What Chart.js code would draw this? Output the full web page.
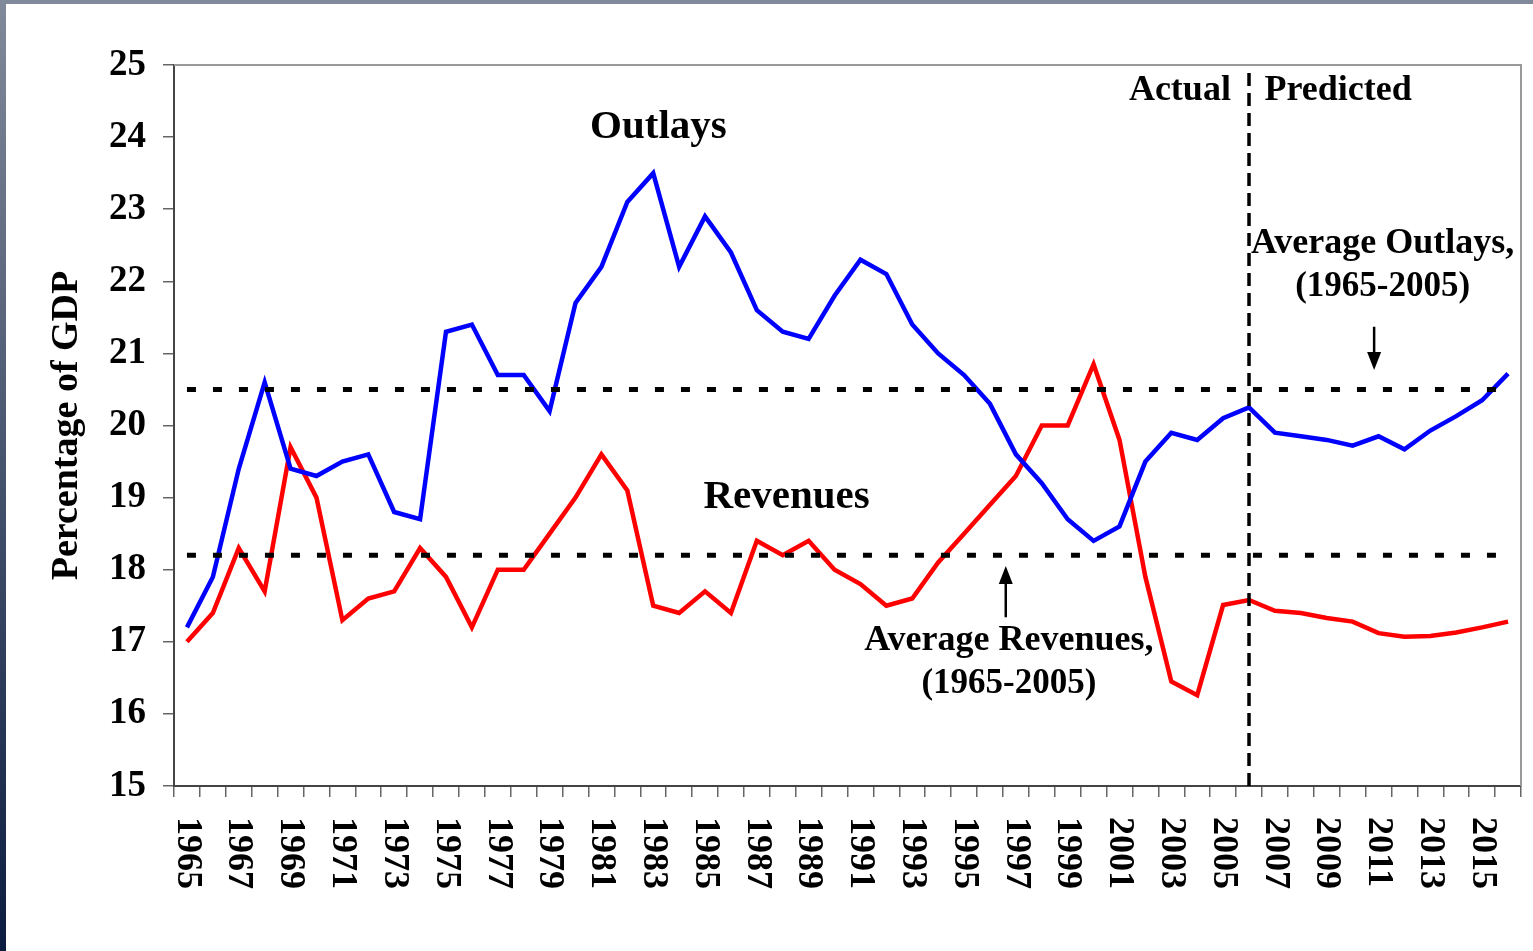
<!DOCTYPE html>
<html>
<head>
<meta charset="utf-8">
<script src="https://cdn.jsdelivr.net/npm/chart.js@4.4.0/dist/chart.umd.min.js"></script>
<style>
body { margin: 0; width: 1533px; height: 951px; overflow: hidden; position: relative;
       background: linear-gradient(to bottom, #818a9a, #0b1c40); }
#paper { position: absolute; left: 6px; top: 4px; right: 0; bottom: 0; background: #fff; }
canvas { position: absolute; left: 0; top: 0; }
</style>
</head>
<body>
<div id="paper"></div>
<canvas id="myChart" width="1533" height="951"></canvas>
<script>
// years on the x axis
const years = ['1965','1966','1967','1968','1969','1970','1971','1972','1973','1974',
               '1975','1976','1977','1978','1979','1980','1981','1982','1983','1984',
               '1985','1986','1987','1988','1989','1990','1991','1992','1993','1994',
               '1995','1996','1997','1998','1999','2000','2001','2002','2003','2004',
               '2005','2006','2007','2008','2009','2010','2011','2012','2013','2014',
               '2015','2016'];
const tickLabels = ['1965','1967','1969','1971','1973','1975','1977','1979','1981','1983',
                    '1985','1987','1989','1991','1993','1995','1997','1999','2001','2003',
                    '2005','2007','2009','2011','2013','2015'];

// percentage of GDP
const outlays = [17.2, 17.9, 19.4, 20.6, 19.4, 19.3, 19.5, 19.6, 18.8, 18.7,
                 21.3, 21.4, 20.7, 20.7, 20.2, 21.7, 22.2, 23.1, 23.5, 22.2,
                 22.9, 22.4, 21.6, 21.3, 21.2, 21.8, 22.3, 22.1, 21.4, 21.0,
                 20.7, 20.3, 19.6, 19.2, 18.7, 18.4, 18.6, 19.5, 19.9, 19.8,
                 20.1, 20.25, 19.9, 19.85, 19.8, 19.72, 19.85, 19.67, 19.93, 20.13,
                 20.35, 20.72];
const revenues = [17.0, 17.4, 18.3, 17.7, 19.7, 19.0, 17.3, 17.6, 17.7, 18.3,
                  17.9, 17.2, 18.0, 18.0, 18.5, 19.0, 19.6, 19.1, 17.5, 17.4,
                  17.7, 17.4, 18.4, 18.2, 18.4, 18.0, 17.8, 17.5, 17.6, 18.1,
                  18.5, 18.9, 19.3, 20.0, 20.0, 20.85, 19.8, 17.9, 16.45, 16.26,
                  17.51, 17.58, 17.43, 17.4, 17.33, 17.28, 17.12, 17.07, 17.08, 17.13,
                  17.2, 17.28];

const avgOutlays = 20.5;
const avgRevenues = 18.2;
const splitYear = '2006';
const yMin = 15, yMax = 25;

const serif = "'Liberation Serif', 'Times New Roman', serif";
Chart.defaults.font.family = serif;

// labels, frame, notes and arrows
const notes = [
    { text: 'Outlays', x: 18.2, y: 24.13, align: 'center', size: 41 },
    { text: 'Revenues', x: 23.15, y: 19.0, align: 'center', size: 41 },
    { text: 'Actual', x: 40.3, y: 24.65, align: 'right', size: 36 },
    { text: 'Predicted', x: 41.6, y: 24.65, align: 'left', size: 36 },
    { text: 'Average Outlays,', x: 46.16, y: 22.52, align: 'center', size: 36 },
    { text: '(1965-2005)', x: 46.16, y: 21.92, align: 'center', size: 35 },
    { text: 'Average Revenues,', x: 31.73, y: 17.02, align: 'center', size: 36 },
    { text: '(1965-2005)', x: 31.73, y: 16.41, align: 'center', size: 35 }
];
const arrows = [
    { x: 45.83, from: 21.37, to: 20.77 },
    { x: 31.61, from: 17.34, to: 18.05 }
];

const decor = {
    id: 'decor',
    beforeDatasetsDraw(chart) {
        const { ctx, chartArea: a } = chart;
        ctx.save();
        ctx.strokeStyle = '#9a9a9a';
        ctx.lineWidth = 2;
        ctx.beginPath();
        ctx.moveTo(a.left, a.top);
        ctx.lineTo(a.right, a.top);
        ctx.lineTo(a.right, a.bottom);
        ctx.stroke();
        ctx.restore();
    },
    afterDatasetsDraw(chart) {
        const { ctx, scales: { x, y }, chartArea: a } = chart;
        ctx.save();
        ctx.fillStyle = '#000';
        // x labels, rotated clockwise
        ctx.font = 'bold 36px ' + serif;
        ctx.textAlign = 'left';
        ctx.textBaseline = 'middle';
        tickLabels.forEach(t => {
            const px = x.getPixelForValue(years.indexOf(t));
            ctx.save();
            ctx.translate(px, a.bottom + 31);
            ctx.rotate(Math.PI / 2);
            ctx.fillText(t, 0, 0);
            ctx.restore();
        });
        // notes
        notes.forEach(n => {
            ctx.font = 'bold ' + n.size + 'px ' + serif;
            ctx.textAlign = n.align;
            ctx.fillText(n.text, x.getPixelForValue(n.x), y.getPixelForValue(n.y));
        });
        // arrows
        ctx.strokeStyle = '#000';
        ctx.lineWidth = 2.5;
        arrows.forEach(ar => {
            const px = x.getPixelForValue(ar.x);
            const y0 = y.getPixelForValue(ar.from);
            const y1 = y.getPixelForValue(ar.to);
            const dir = y1 > y0 ? 1 : -1;
            ctx.beginPath();
            ctx.moveTo(px, y0);
            ctx.lineTo(px, y1 - dir * 14);
            ctx.stroke();
            ctx.beginPath();
            ctx.moveTo(px, y1);
            ctx.lineTo(px - 7, y1 - dir * 18);
            ctx.lineTo(px + 7, y1 - dir * 18);
            ctx.closePath();
            ctx.fill();
        });
        ctx.restore();
    }
};

const ctx = document.getElementById('myChart').getContext('2d');
const myChart = new Chart(ctx, {
    type: 'line',
    data: {
        labels: years,
        datasets: [{
            label: 'Outlays',
            data: outlays,
            borderColor: '#0000ff',
            borderWidth: 4.5,
            order: 3
        }, {
            label: 'Revenues',
            data: revenues,
            borderColor: '#ff0000',
            borderWidth: 4.5,
            order: 3
        }, {
            label: 'Average Outlays',
            data: [{ x: years[0], y: avgOutlays }, { x: years[years.length - 1], y: avgOutlays }],
            borderColor: '#000',
            borderWidth: 5,
            borderDash: [9, 17],
            order: 1
        }, {
            label: 'Average Revenues',
            data: [{ x: years[0], y: avgRevenues }, { x: years[years.length - 1], y: avgRevenues }],
            borderColor: '#000',
            borderWidth: 5,
            borderDash: [9, 17],
            order: 1
        }, {
            label: 'Actual / Predicted',
            data: [{ x: splitYear, y: yMin }, { x: splitYear, y: 24.9 }],
            borderColor: '#000',
            borderWidth: 3.5,
            borderDash: [13, 7],
            order: 0
        }]
    },
    options: {
        responsive: false,
        maintainAspectRatio: false,
        animation: false,
        events: [],
        layout: { padding: { top: 65, right: 12, left: 0, bottom: 0 } },
        elements: {
            point: { radius: 0 },
            line: { tension: 0, borderCapStyle: 'butt' }
        },
        plugins: {
            legend: { display: false },
            tooltip: { enabled: false }
        },
        scales: {
            x: {
                type: 'category',
                offset: true,
                grid: { offset: true, drawOnChartArea: false, tickLength: 11, color: '#666', lineWidth: 1.5 },
                border: { color: '#444', width: 2 },
                ticks: { autoSkip: false, minRotation: 90, maxRotation: 90, color: 'rgba(0,0,0,0)',
                         font: { size: 36, weight: 'bold' } },
                afterFit(s) { s.height = 165; s.paddingLeft = 0; s.paddingRight = 0; }
            },
            y: {
                min: yMin,
                max: yMax,
                grid: { drawOnChartArea: false, tickLength: 11, color: '#666', lineWidth: 1.5 },
                border: { color: '#444', width: 2 },
                ticks: { stepSize: 1, padding: 17, color: '#000', font: { size: 37, weight: 'bold' } },
                title: { display: true, text: 'Percentage of GDP', color: '#000',
                         font: { size: 38, weight: 'bold' }, padding: { top: 44, bottom: 0 } },
                afterFit(s) { s.width = 174; }
            }
        }
    },
    plugins: [decor]
});
</script>
</body>
</html>
